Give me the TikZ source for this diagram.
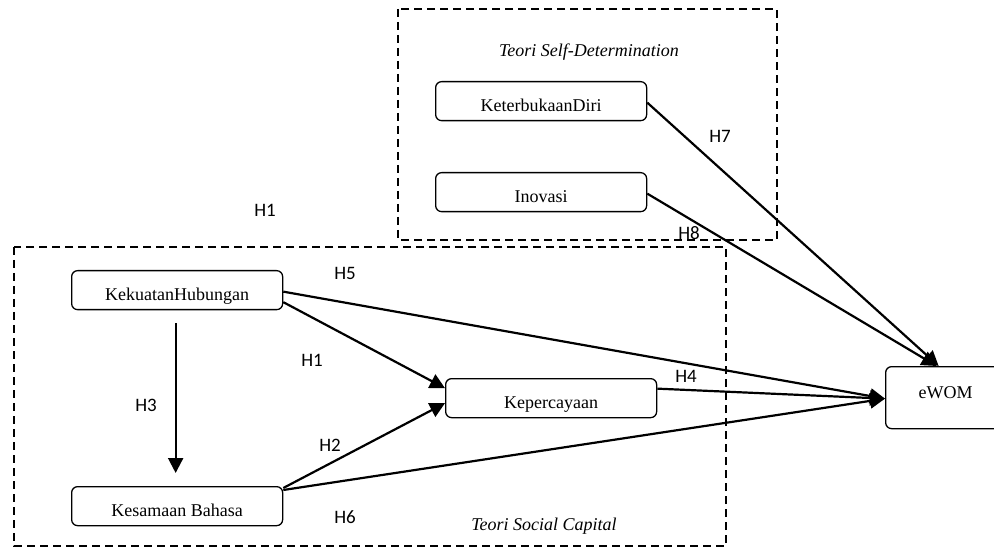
\documentclass[tikz,border=0pt]{standalone}
\usepackage{fontspec}
\setmainfont{Liberation Serif}
\newfontfamily\hypfont{Carlito}
\usetikzlibrary{arrows.meta}

\tikzset{
  varbox/.style={draw, line width=1.3pt, rounded corners=6pt, inner sep=0pt,
    minimum width=211pt, minimum height=39pt, text height=20pt, text depth=0pt,
    font=\fontsize{18}{20}\selectfont},
  groupbox/.style={line width=1.4pt, dash pattern=on 8pt off 5pt},
  grouptitle/.style={anchor=base, font=\fontsize{18}{20}\selectfont\itshape},
  hyp/.style={font=\hypfont\fontsize{19}{20}\selectfont},
  hyparrow/.style={line width=2.2pt, -{Triangle[length=15pt, width=15pt]}}
}

\begin{document}
\begin{tikzpicture}[x=1pt, y=-1pt]
    \useasboundingbox (0,0) rectangle (994,548);

    % theory groups
    \draw[groupbox] (398,9) rectangle (777,240);
    \draw[groupbox] (14,247) rectangle (726,546);
    \node[grouptitle](SDT) at (589,57) {Teori Self-Determination};
    \node[grouptitle](SC) at (544,530) {Teori Social Capital};

    % variables
    \node[varbox, anchor=north west](KD) at (435,81) {KeterbukaanDiri};
    \node[varbox, anchor=north west](IN) at (435,172) {Inovasi};
    \node[varbox, anchor=north west](KH) at (71,270) {KekuatanHubungan};
    \node[varbox, anchor=north west](KB) at (71,486) {Kesamaan Bahasa};
    \node[varbox, anchor=north west](KP) at (445,378) {Kepercayaan};
    \node[varbox, anchor=north west, minimum width=120pt, minimum height=62pt,
          text height=12pt, text depth=10pt](EW) at (885,366) {eWOM};

    % paths
    \draw[hyparrow] ([yshift=-12pt]KH.east) -- ([yshift=10pt]KP.west);
    \draw[hyparrow] ([yshift=-2pt]KB.north east) -- ([yshift=-5pt]KP.west);
    \draw[hyparrow, shorten <=13pt, shorten >=13pt] ([xshift=-1.5pt]KH.south) -- ([xshift=-1.5pt]KB.north);
    \draw[hyparrow] ([yshift=9.5pt]KP.east) -- ([yshift=-1pt]EW.west);
    \draw[hyparrow] ([yshift=-1.5pt]KH.east) -- ([yshift=-1pt]EW.west);
    \draw[hyparrow] ([yshift=-4pt]KB.north east) -- ([yshift=-1pt]EW.west);
    \draw[hyparrow] ([yshift=-1.5pt]KD.east) -- ([xshift=-7pt]EW.north);
    \draw[hyparrow] ([yshift=-1.5pt]IN.east) -- ([xshift=-9pt]EW.north);

    % hypothesis labels
    \node[hyp](H1a) at (265,210) {H1};
    \node[hyp](H1) at (312,360) {H1};
    \node[hyp](H2) at (330,445) {H2};
    \node[hyp](H3) at (146,405) {H3};
    \node[hyp](H4) at (686,376) {H4};
    \node[hyp](H5) at (345,273) {H5};
    \node[hyp](H6) at (345,517) {H6};
    \node[hyp](H7) at (720,136) {H7};
    \node[hyp](H8) at (689,233) {H8};
\end{tikzpicture}
\end{document}
